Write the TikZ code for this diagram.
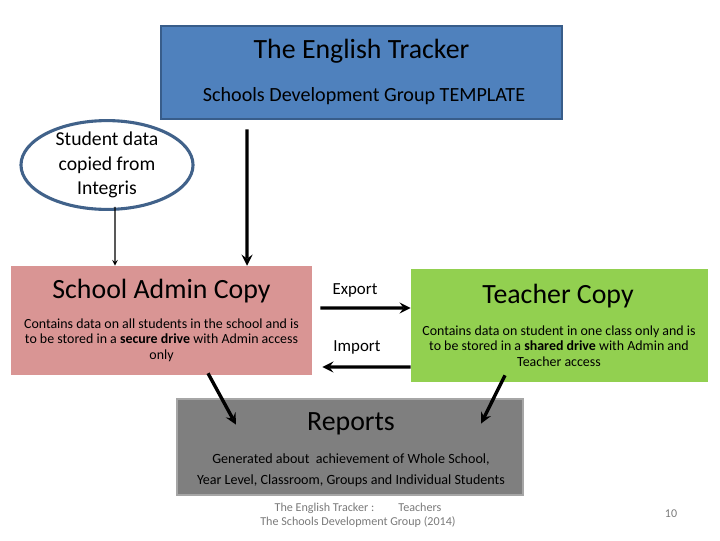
\documentclass[tikz,border=0pt]{standalone}
\usepackage{fontspec}
\setmainfont{Carlito}
\usetikzlibrary{shapes.geometric}
\definecolor{trackerblue}{HTML}{4F81BD}
\definecolor{trackeredge}{HTML}{385D8A}
\definecolor{ovaledge}{HTML}{41628A}
\definecolor{adminpink}{HTML}{D99594}
\definecolor{teachergreen}{HTML}{92D050}
\definecolor{reportgray}{HTML}{7F7F7F}
\definecolor{reportedge}{HTML}{A6A6A6}
\definecolor{footgray}{HTML}{7A7A7A}
\begin{document}
\begin{tikzpicture}[x=0.025cm,y=-0.025cm]
		\tikzstyle{box} = [rectangle,inner sep=0pt]
		\tikzstyle{heading} = [font=\fontsize{19.8}{22}\selectfont]
		\tikzstyle{bodytext} = [align=center,font=\fontsize{9.9}{11}\selectfont]
		\tikzstyle{bigarrow} = [-stealth,line width=2.4pt]
		\useasboundingbox (0,0) rectangle (720,540);

		% boxes
		\node[box,draw=trackeredge,line width=1.8pt,fill=trackerblue,minimum width=10.025cm,minimum height=2.325cm] (title) at (361.5,72.5) {};
		\node[ellipse,draw=ovaledge,line width=2.2pt,fill=white,minimum width=4.3cm,minimum height=2.22cm,inner sep=0pt] (integris) at (107,165) {};
		\node[box,fill=adminpink,minimum width=7.525cm,minimum height=2.725cm] (admin) at (161.5,320.5) {};
		\node[box,fill=teachergreen,minimum width=7.425cm,minimum height=2.825cm] (teacher) at (559.5,325.5) {};
		\node[box,draw=reportedge,line width=2pt,fill=reportgray,minimum width=8.65cm,minimum height=2.4cm] (reports) at (350,447) {};

		% texts
		\node[heading] (titletext) at (361.5,51) {The English Tracker};
		\node[font=\fontsize{14.3}{16}\selectfont] (template) at (364,96) {Schools Development Group TEMPLATE};
		\node[align=center,font=\fontsize{14}{17.3}\selectfont] (integristext) at (107,165) {Student data\\copied from\\Integris};
		\node[heading] (admintitle) at (161.5,291) {School Admin Copy};
		\node[bodytext] (adminbody) at (161.5,340) {Contains data on all students in the school and is\\to be stored in a \textbf{secure drive} with Admin access\\only};
		\node[heading] (teachertitle) at (558,296) {Teacher Copy};
		\node[bodytext] (teacherbody) at (559,346) {Contains data on student in one class only and is\\to be stored in a \textbf{shared drive} with Admin and\\Teacher access};
		\node[heading] (reportstitle) at (351,424) {Reports};
		\node[align=center,font=\fontsize{10}{15}\selectfont] (reportsbody) at (351,470) {Generated about\ \ achievement of Whole School,\\Year Level, Classroom, Groups and Individual Students};
		\node[font=\fontsize{12}{14}\selectfont] (export) at (355,290) {Export};
		\node[font=\fontsize{12}{14}\selectfont] (import) at (357,347) {Import};
		\node[align=center,text=footgray,font=\fontsize{8.6}{10}\selectfont] (footer) at (358,515) {The English Tracker :\qquad Teachers\\The Schools Development Group (2014)};
		\node[text=footgray,font=\fontsize{8.5}{10}\selectfont] (page) at (671,514) {10};

		% arrows
		\draw[-stealth,line width=0.8pt] ([xshift=0.2cm,yshift=0.1cm]integris.south) -- ([xshift=-1.1625cm]admin.north);
		\draw[bigarrow] ([xshift=-2.8625cm,yshift=-0.225cm]title.south) -- ([xshift=2.1375cm]admin.north);
		\draw[bigarrow] ([xshift=0.2cm,yshift=0.3125cm]admin.east) -- ([yshift=0.4375cm]teacher.west);
		\draw[bigarrow] ([yshift=-1.0375cm]teacher.west) -- ([xshift=0.25cm,yshift=-1.1625cm]admin.east);
		\draw[bigarrow] ([xshift=1.1625cm,yshift=0.05cm]admin.south) -- ([xshift=-2.85cm,yshift=-0.675cm]reports.north);
		\draw[bigarrow] ([xshift=-1.3625cm,yshift=0.175cm]teacher.south) -- ([xshift=3.275cm,yshift=-0.65cm]reports.north);
	\end{tikzpicture}
\end{document}
